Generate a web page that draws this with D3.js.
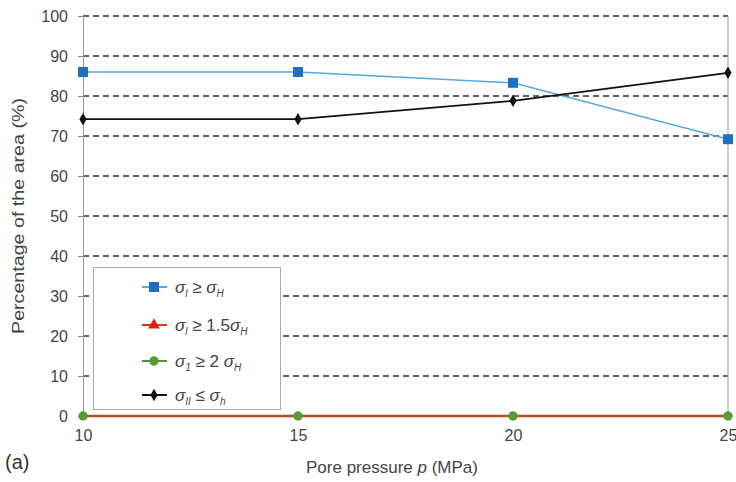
<!DOCTYPE html>
<html>
<head>
<meta charset="utf-8">
<script src="https://cdn.jsdelivr.net/npm/d3@7"></script>
<style>
  body { margin: 0; background: #fff; }
  svg { display: block; font-family: "Liberation Sans", Arial, sans-serif; }
</style>
</head>
<body>
<svg id="chart" width="736" height="482"></svg>
<script>
// Pore pressure levels (MPa)
const pressures = [10, 15, 20, 25];
// Percentage of the area meeting each stress condition
const sigmaGeH = [86, 86, 83.3, 69.2];
const sigmaGe15H = [0, 0, 0, 0];
const sigmaGe2H = [0, 0, 0, 0];
const sigmaIILeh = [74.2, 74.2, 78.8, 85.8];
const yTicks = [0, 10, 20, 30, 40, 50, 60, 70, 80, 90, 100];
const xTicks = [10, 15, 20, 25];

(function () {
const svg = d3.select("#chart");
const mLeft = 83, mRight = 728, mTop = 16, mBottom = 416;

const x = d3.scaleLinear().domain([10, 25]).range([mLeft, mRight]);
const y = d3.scaleLinear().domain([0, 100]).range([mBottom, mTop]);

// dashed horizontal gridlines
svg.append("g").selectAll("line")
  .data(yTicks.filter(d => d > 0))
  .join("line")
  .attr("x1", mLeft).attr("x2", mRight)
  .attr("y1", d => y(d)).attr("y2", d => y(d))
  .attr("stroke", "#333").attr("stroke-width", 1.3)
  .attr("stroke-dasharray", "6,4");

// right frame edge
svg.append("line")
  .attr("x1", mRight).attr("x2", mRight).attr("y1", mTop).attr("y2", mBottom)
  .attr("stroke", "#999");

// y axis
const yAxis = svg.append("g").attr("transform", `translate(${mLeft},0)`)
  .call(d3.axisLeft(y).tickValues(yTicks).tickSize(5).tickPadding(10));
yAxis.select(".domain").attr("stroke", "#999");
yAxis.selectAll(".tick line").attr("stroke", "#888");
yAxis.selectAll("text").attr("fill", "#444").attr("font-size", 16)
  .attr("font-family", "Liberation Sans, Arial, sans-serif");

// x axis (baseline at 0)
const xAxis = svg.append("g").attr("transform", `translate(0,${mBottom})`)
  .call(d3.axisBottom(x).tickValues(xTicks).tickSize(0).tickPadding(14));
xAxis.select(".domain").attr("stroke", "#999");
xAxis.selectAll("text").attr("fill", "#444").attr("font-size", 16)
  .attr("font-family", "Liberation Sans, Arial, sans-serif");

// axis titles
svg.append("text")
  .attr("transform", `translate(24,${(mTop + mBottom) / 2}) rotate(-90)`)
  .attr("text-anchor", "middle").attr("fill", "#444").attr("font-size", 17)
  .attr("textLength", 236).attr("lengthAdjust", "spacingAndGlyphs")
  .text("Percentage of the area (%)");

const xt = svg.append("text")
  .attr("x", 392).attr("y", 473).attr("text-anchor", "middle")
  .attr("fill", "#444").attr("font-size", 17);
xt.append("tspan").text("Pore pressure ");
xt.append("tspan").attr("font-style", "italic").text("p");
xt.append("tspan").text(" (MPa)");

svg.append("text").attr("x", 5).attr("y", 469)
  .attr("fill", "#333").attr("font-size", 20).text("(a)");

const line = d3.line().x((d, i) => x(pressures[i])).y(d => y(d));

const series = [
  { key: "geH", values: sigmaGeH, color: "#5aa7e0", marker: "#1f6fc4", shape: d3.symbolSquare, size: 100, width: 1.5, opacity: 1 },
  { key: "ge15H", values: sigmaGe15H, color: "#d9341f", marker: "#e02010", shape: d3.symbolTriangle, size: 60, width: 2.5, opacity: 1 },
  { key: "ge2H", values: sigmaGe2H, color: "#5a8f35", marker: "#5a9a35", shape: d3.symbolCircle, size: 70, width: 1.5, opacity: 0.45 },
  { key: "IILeh", values: sigmaIILeh, color: "#111", marker: "#111", shape: d3.symbolDiamond, size: 45, width: 1.7, opacity: 1 }
];

series.forEach(s => {
  svg.append("path").datum(s.values)
    .attr("d", line).attr("fill", "none")
    .attr("stroke", s.color).attr("stroke-width", s.width)
    .attr("stroke-opacity", s.opacity);
});
series.forEach(s => {
  if (s.key === "ge15H") return;
  svg.append("g").selectAll("path")
    .data(s.values).join("path")
    .attr("transform", (d, i) => `translate(${x(pressures[i])},${y(d)})`)
    .attr("d", d3.symbol().type(s.shape).size(s.size))
    .attr("fill", s.marker);
});

// legend
const lg = svg.append("g");
lg.append("rect").attr("x", 93.5).attr("y", 267.5).attr("width", 187).attr("height", 142)
  .attr("fill", "#fff").attr("stroke", "#aaa");

const legendY = [287, 325, 361, 395];
// each label: [text, kind] where kind is "" plain, "i" italic, "sub" subscript
const labels = [
  [["σ", "i"], ["l", "sub"], [" ≥ ", ""], ["σ", "i"], ["H", "sub"]],
  [["σ", "i"], ["l", "sub"], [" ≥ 1.5", ""], ["σ", "i"], ["H", "sub"]],
  [["σ", "i"], ["1", "sub"], [" ≥ 2 ", ""], ["σ", "i"], ["H", "sub"]],
  [["σ", "i"], ["II", "sub"], [" ≤ ", ""], ["σ", "i"], ["h", "sub"]]
];
series.forEach((s, k) => {
  const yy = legendY[k];
  lg.append("line").attr("x1", 142).attr("x2", 167).attr("y1", yy).attr("y2", yy)
    .attr("stroke", s.color).attr("stroke-width", 2);
  lg.append("path").attr("transform", `translate(154,${yy})`)
    .attr("d", d3.symbol().type(s.shape).size(s.size)).attr("fill", s.marker);
  const t = lg.append("text").attr("x", 175).attr("y", yy + 6)
    .attr("fill", "#444").attr("font-size", 17);
  let inSub = false;
  labels[k].forEach(([txt, kind]) => {
    const ts = t.append("tspan").text(txt);
    if (kind === "i") ts.attr("font-style", "italic");
    if (kind === "sub") {
      ts.attr("font-size", 10).attr("font-style", "italic").attr("dy", inSub ? 0 : 4);
      inSub = true;
    } else {
      if (inSub) ts.attr("dy", -4);
      inSub = false;
    }
  });
});
})();
</script>
</body>
</html>
